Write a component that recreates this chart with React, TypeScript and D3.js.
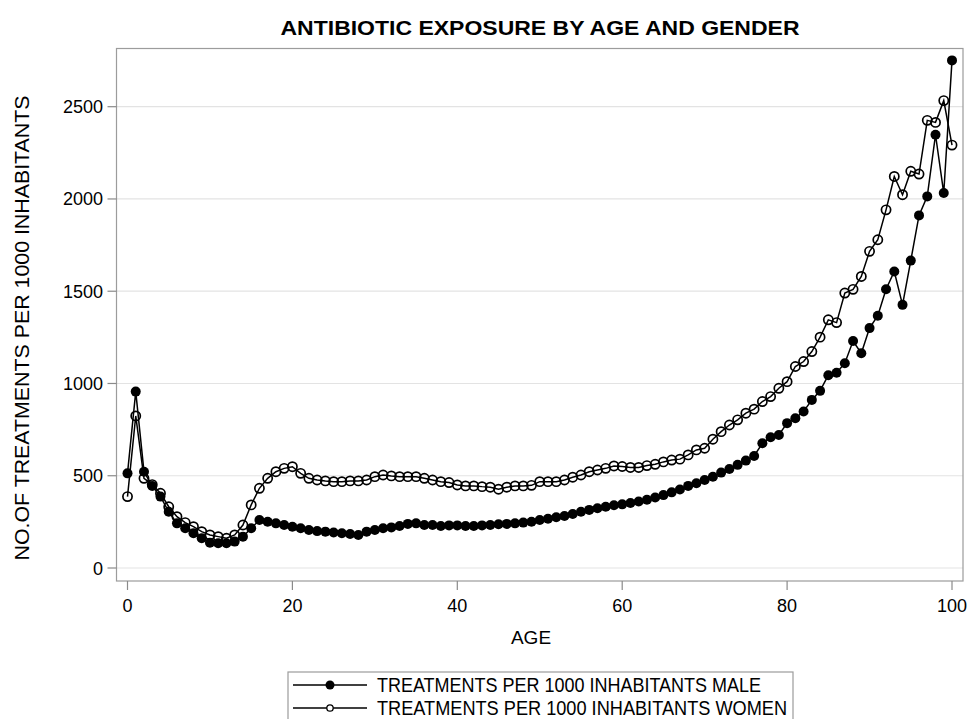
import * as d3 from 'd3';

const ages = [
  0, 1, 2, 3, 4, 5, 6, 7, 8, 9, 10, 11, 12, 13, 14, 15, 16, 17, 18, 19, 20,
  21, 22, 23, 24, 25, 26, 27, 28, 29, 30, 31, 32, 33, 34, 35, 36, 37, 38, 39, 40,
  41, 42, 43, 44, 45, 46, 47, 48, 49, 50, 51, 52, 53, 54, 55, 56, 57, 58, 59, 60,
  61, 62, 63, 64, 65, 66, 67, 68, 69, 70, 71, 72, 73, 74, 75, 76, 77, 78, 79, 80,
  81, 82, 83, 84, 85, 86, 87, 88, 89, 90, 91, 92, 93, 94, 95, 96, 97, 98, 99, 100,
];

const male = [
  513, 956, 522, 445, 387, 305, 242, 215, 188, 161, 137, 134, 134, 143, 170, 215, 260, 251, 242, 233, 224,
  215, 206, 200, 197, 192, 188, 184, 179, 197, 206, 215, 220, 228, 239, 242, 233, 233, 228, 231, 231,
  228, 228, 231, 233, 237, 239, 242, 246, 251, 260, 267, 275, 282, 293, 305, 315, 324, 332, 340, 345,
  352, 360, 370, 382, 395, 410, 425, 445, 459, 477, 495, 517, 537, 559, 582, 607, 676, 709, 721, 785,
  812, 848, 911, 960, 1045, 1058, 1110, 1230, 1164, 1300, 1367, 1511, 1607, 1426, 1666, 1911, 2014, 2348, 2032, 2751,
];

const women = [
  387, 824, 486, 452, 405, 332, 278, 246, 224, 197, 179, 170, 161, 179, 233, 342, 432, 486, 522, 540, 549,
  513, 486, 477, 472, 468, 468, 472, 472, 477, 495, 504, 499, 495, 495, 495, 486, 477, 468, 463, 450,
  445, 445, 441, 438, 427, 438, 445, 445, 448, 468, 468, 468, 477, 492, 504, 522, 531, 540, 553, 550,
  545, 545, 555, 562, 575, 585, 590, 613, 640, 649, 698, 739, 775, 803, 839, 861, 902, 929, 974, 1010,
  1092, 1119, 1173, 1251, 1345, 1330, 1490, 1510, 1580, 1716, 1779, 1941, 2122, 2023, 2150, 2135, 2426, 2415, 2533, 2292,
];

const xTicks = [0, 20, 40, 60, 80, 100];
const yTicks = [0, 500, 1000, 1500, 2000, 2500];

const seriesLabels = [
  'TREATMENTS PER 1000 INHABITANTS MALE',
  'TREATMENTS PER 1000 INHABITANTS WOMEN',
];

const font = '"Liberation Sans", Arial, sans-serif';

export default function App() {
  const width = 968;
  const height = 719;
  const frame = { left: 116.5, right: 963, top: 48.5, bottom: 581 };

  const x = d3.scaleLinear().domain([0, 100]).range([127.5, 952]);
  const y = d3.scaleLinear().domain([0, 2500]).range([568, 106.7]);

  const line = d3
    .line<number>()
    .x((_, i) => x(ages[i]))
    .y((d) => y(d));

  return (
    <svg
      width={width}
      height={height}
      style={{ position: 'absolute', left: 0, top: 0, background: '#fff' }}
      fontFamily={font}
    >
      <rect width={width} height={height} fill="#fff" />

      {/* grid */}
      {yTicks.map((t) => (
        <line
          key={'g' + t}
          x1={frame.left}
          x2={frame.right}
          y1={y(t)}
          y2={y(t)}
          stroke="#e3e3e3"
          strokeWidth={1.2}
        />
      ))}

      {/* frame */}
      <rect
        x={frame.left}
        y={frame.top}
        width={frame.right - frame.left}
        height={frame.bottom - frame.top}
        fill="none"
        stroke="#9c9c9c"
        strokeWidth={1.2}
      />

      {/* y axis */}
      {yTicks.map((t) => (
        <g key={'y' + t}>
          <line x1={frame.left - 9} x2={frame.left} y1={y(t)} y2={y(t)} stroke="#8a8a8a" strokeWidth={1.2} />
          <text x={103} y={y(t) + 6.5} textAnchor="end" fontSize={18} fill="#000">
            {t}
          </text>
        </g>
      ))}

      {/* x axis */}
      {xTicks.map((t) => (
        <g key={'x' + t}>
          <line x1={x(t)} x2={x(t)} y1={frame.bottom} y2={frame.bottom + 9} stroke="#8a8a8a" strokeWidth={1.2} />
          <text x={x(t)} y={612} textAnchor="middle" fontSize={18} fill="#000">
            {t}
          </text>
        </g>
      ))}

      <text x={540} y={35} textAnchor="middle" fontSize={20} fontWeight="bold" textLength={519} lengthAdjust="spacingAndGlyphs">
        ANTIBIOTIC EXPOSURE BY AGE AND GENDER
      </text>

      <text x={531} y={644} textAnchor="middle" fontSize={19}>
        AGE
      </text>

      <text
        transform="translate(29,328) rotate(-90)"
        textAnchor="middle"
        fontSize={20}
        textLength={465}
        lengthAdjust="spacingAndGlyphs"
      >
        NO.OF TREATMENTS PER 1000 INHABITANTS
      </text>

      {/* series */}
      <path d={line(male) || ''} fill="none" stroke="#000" strokeWidth={1.5} />
      {male.map((v, i) => (
        <circle key={'m' + i} cx={x(ages[i])} cy={y(v)} r={5} fill="#000" />
      ))}
      <path d={line(women) || ''} fill="none" stroke="#000" strokeWidth={1.5} />
      {women.map((v, i) => (
        <circle key={'w' + i} cx={x(ages[i])} cy={y(v)} r={4.6} fill="none" stroke="#000" strokeWidth={1.7} />
      ))}

      {/* legend */}
      <rect x={288} y={672} width={505} height={60} fill="none" stroke="#9c9c9c" strokeWidth={1.2} />
      <line x1={293} x2={367} y1={685} y2={685} stroke="#000" strokeWidth={1.5} />
      <circle cx={330} cy={685} r={4.5} fill="#000" />
      <text x={377} y={692} fontSize={20} textLength={384} lengthAdjust="spacingAndGlyphs">
        {seriesLabels[0]}
      </text>
      <line x1={293} x2={367} y1={708} y2={708} stroke="#000" strokeWidth={1.5} />
      <circle cx={330} cy={708} r={3.2} fill="#fff" stroke="#000" strokeWidth={1.3} />
      <text x={377} y={715} fontSize={20} textLength={410} lengthAdjust="spacingAndGlyphs">
        {seriesLabels[1]}
      </text>
    </svg>
  );
}
